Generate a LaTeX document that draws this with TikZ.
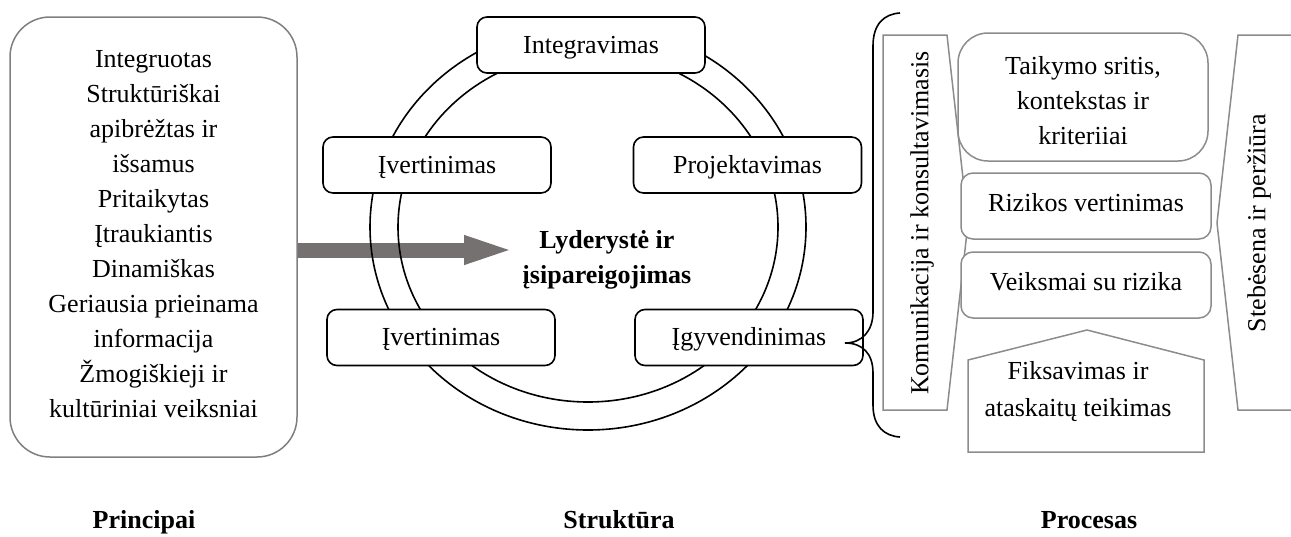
\documentclass[tikz,border=0pt]{standalone}
\usepackage{fontspec}
\setmainfont{Liberation Serif}
\usetikzlibrary{arrows.meta}
\definecolor{panelgray}{HTML}{8C8C8C}
\definecolor{leftgray}{HTML}{7F7F7F}
\definecolor{arrowgray}{HTML}{767171}
\begin{document}
\begin{tikzpicture}[x=1pt,y=-1pt,
  font=\fontsize{26}{35}\selectfont,
  cbox/.style={draw=black, line width=1.6pt, fill=white, rounded corners=10pt,
    minimum width=228pt, minimum height=56pt, inner sep=0pt,
    text height=20pt, text depth=4pt},
  rframe/.style={draw=panelgray, line width=1.5pt, fill=white, rounded corners=12pt,
    minimum width=250pt, minimum height=66pt, inner sep=0pt},
  rbox/.style={rframe, text height=18pt, text depth=8pt},
  ring/.style={draw=black, line width=1.6pt},
  panel/.style={draw=panelgray, line width=1.5pt},
  bracestyle/.style={draw=black, line width=1.6pt},
  bigarrow/.style={draw=arrowgray, line width=15pt, -{Triangle[length=53pt,width=25pt]}},
  title/.style={font=\fontsize{26}{35}\selectfont\bfseries, anchor=base, inner sep=0pt}]
\useasboundingbox (0,0) rectangle (1291,536);

% Principles
\node[draw=leftgray, line width=1.5pt, rounded corners=40pt, minimum width=287pt,
  minimum height=440pt, align=center, inner sep=0pt] (principles) at (153.5,237)
  {Integruotas\\Struktūriškai\\apibrėžtas ir\\išsamus\\Pritaikytas\\Įtraukiantis\\Dinamiškas\\Geriausia prieinama\\informacija\\Žmogiškieji ir\\kultūriniai veiksniai\rule[-6pt]{0pt}{6pt}};

% Centre text and arrow
\node[font=\fontsize{26}{35}\selectfont\bfseries, align=center, inner sep=0pt] (lead) at (607,259.5)
  {Lyderystė ir\\įsipareigojimas};
\coordinate (arrtip) at (517,250);
\draw[bigarrow] (principles.east |- arrtip) -- (arrtip);

% Rings
\draw[ring] (588,227) ellipse [x radius=218pt, y radius=203pt];
\draw[ring] (588,227) ellipse [x radius=190pt, y radius=175pt];

% Framework boxes
\node[cbox] (integ) at (591,45) {Integravimas};
\node[cbox] (evalA) at (437,165) {Įvertinimas};
\node[cbox] (design) at (747.5,165) {Projektavimas};
\node[cbox] (evalB) at (441,337.5) {Įvertinimas};
\node[cbox] (impl) at (749,337.5) {Įgyvendinimas};

% Brace
\coordinate (bracetip) at (845,343);
\draw[bracestyle] (900,13) .. controls (884,14) and (873,24) .. (873,46) -- (873,312)
  .. controls (873,331) and (862,343) .. (bracetip)
  .. controls (862,343) and (873,353) .. (873,373) -- (873,405)
  .. controls (873,426) and (884,436) .. (900,437);

% Process panel
\draw[panel] (883,35) -- (947,35) -- (968,223) -- (947,410) -- (883,410) -- cycle;
\node[rotate=90, inner sep=0pt] (comm) at (922,223) {Komunikacija ir konsultavimasis};
\draw[panel] (1291,35) -- (1238,35) -- (1217,223) -- (1238,410) -- (1291,410);
\node[rotate=90, inner sep=0pt] (monitor) at (1259,223) {Stebėsena ir peržiūra};

\node[rframe, rounded corners=30pt, minimum height=128pt, align=center] (scope) at (1083,97)
  {\rule{0pt}{26pt}Taikymo sritis,\\kontekstas ir\\kriteriiai};
\node[rbox] (assess) at (1086,206) {Rizikos vertinimas};
\node[rbox] (treat) at (1086,285) {Veiksmai su rizika};
\draw[panel] (968,452) -- (968,360) -- (1087,330) -- (1204,360) -- (1204,452) -- cycle;
\node[align=center, inner sep=0pt] (record) at (1078,392) {Fiksavimas ir\\[2pt]ataskaitų teikimas};

% Titles
\node[title] (tp) at (144,528) {Principai};
\node[title] (ts) at (619,528) {Struktūra};
\node[title] (tpr) at (1089,528) {Procesas};
\end{tikzpicture}
\end{document}
